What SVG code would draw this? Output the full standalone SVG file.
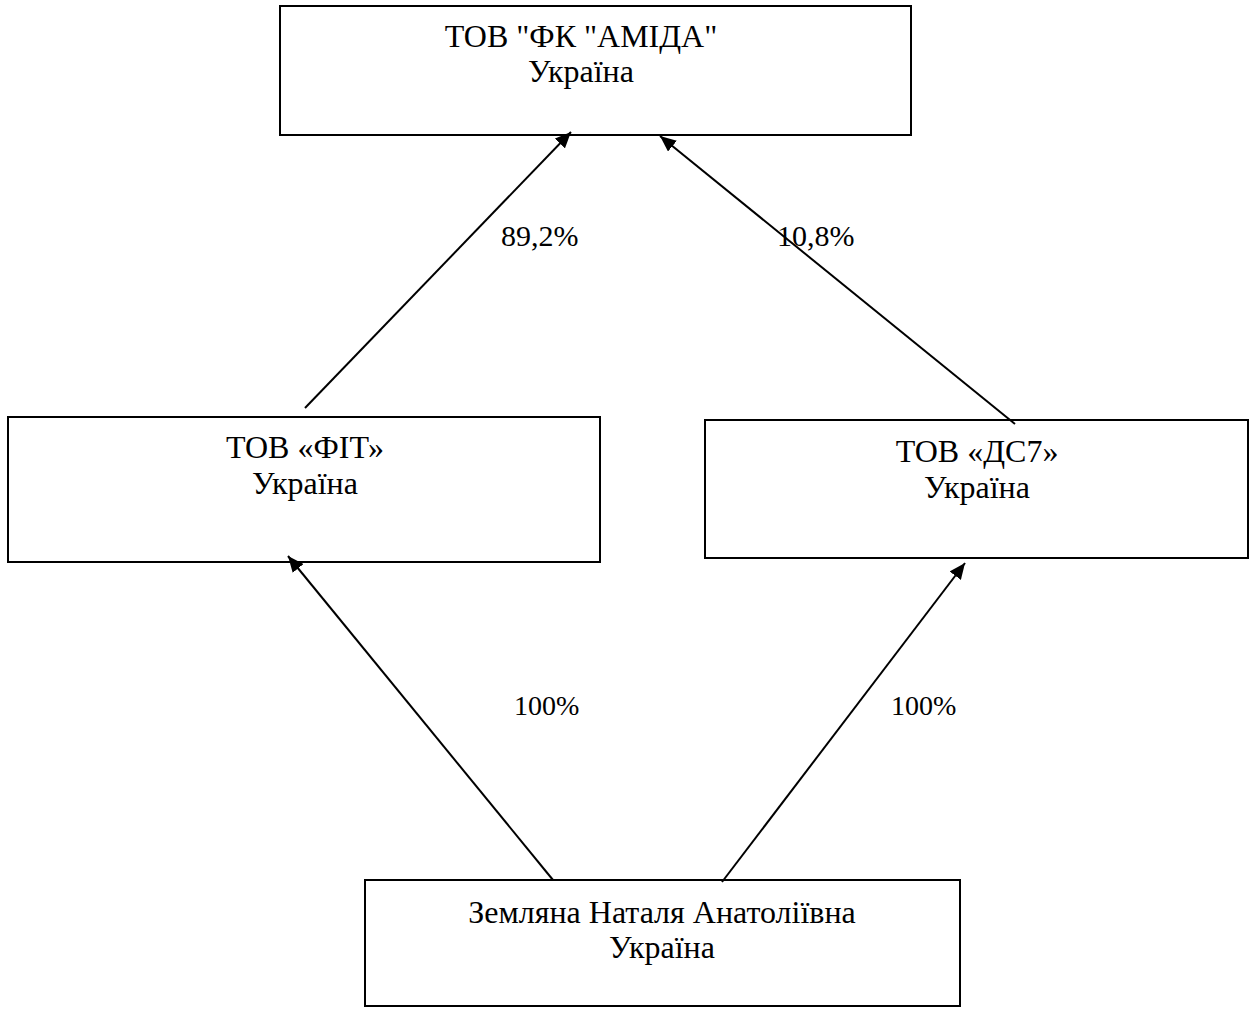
<svg xmlns="http://www.w3.org/2000/svg" width="1257" height="1010" viewBox="0 0 1257 1010">
<style>
.box{fill:#fff;stroke:#000;stroke-width:2}
.t{font-family:"Liberation Serif","Times New Roman",serif;font-size:32px;fill:#000}
.c{text-anchor:middle}
.p{font-family:"Liberation Serif","Times New Roman",serif;font-size:30px;fill:#000}
.p2{font-size:28px}
.ln{stroke:#000;stroke-width:2;fill:none;marker-end:url(#ah)}
</style>
<defs>
<marker id="ah" markerUnits="userSpaceOnUse" markerWidth="17" markerHeight="14" refX="16" refY="7" orient="auto">
<path d="M0,0 L16,7 L0,14 z" fill="#000"/>
</marker>
</defs>
<rect width="1257" height="1010" fill="#fff"/>
<g id="node-amida">
<rect class="box" x="280" y="6" width="631" height="129"/>
<text class="t c" x="581" y="47">ТОВ "ФК "АМІДА"</text>
<text class="t c" x="581" y="82">Україна</text>
</g>
<g id="node-fit">
<rect class="box" x="8" y="417" width="592" height="145"/>
<text class="t c" x="305" y="458">ТОВ «ФІТ»</text>
<text class="t c" x="305" y="494">Україна</text>
</g>
<g id="node-ds7">
<rect class="box" x="705" y="420" width="543" height="138"/>
<text class="t c" x="977" y="462">ТОВ «ДС7»</text>
<text class="t c" x="977" y="498">Україна</text>
</g>
<g id="node-zemliana">
<rect class="box" x="365" y="880" width="595" height="126"/>
<text class="t c" x="662" y="923">Земляна Наталя Анатоліївна</text>
<text class="t c" x="662" y="958">Україна</text>
</g>
<g id="connectors">
<line class="ln" x1="305" y1="408" x2="571" y2="132"/>
<line class="ln" x1="1015" y1="424" x2="660" y2="136"/>
<line class="ln" x1="553" y1="880" x2="288" y2="556"/>
<line class="ln" x1="722" y1="882" x2="965" y2="563"/>
<text class="p" x="501" y="246">89,2%</text>
<text class="p" x="777" y="246">10,8%</text>
<text class="p p2" x="514" y="715">100%</text>
<text class="p p2" x="891" y="715">100%</text>
</g>
</svg>
